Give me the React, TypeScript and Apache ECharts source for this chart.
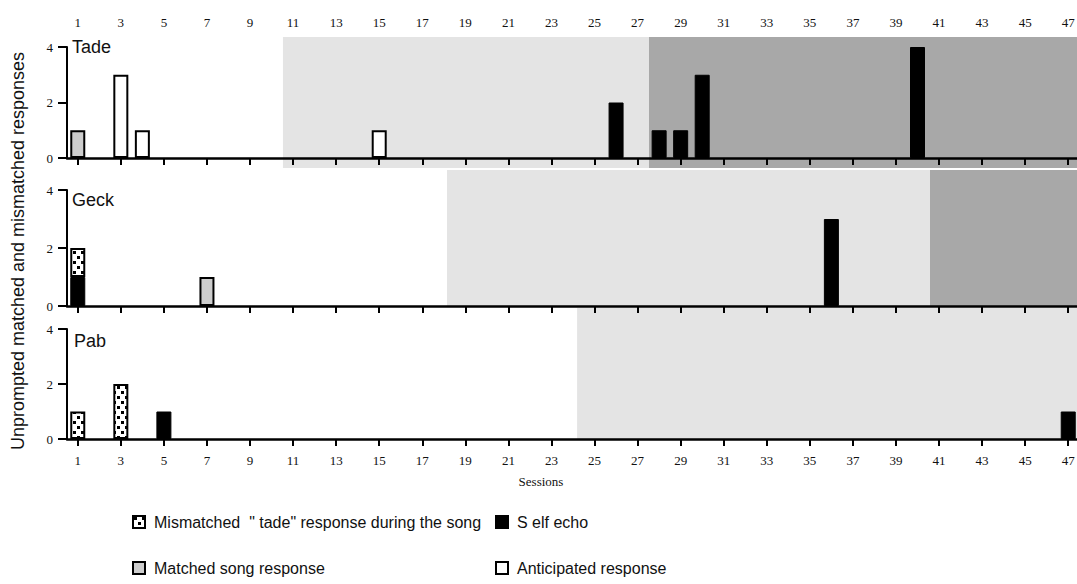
import React, { useEffect, useRef } from "react";
import * as echarts from "echarts";

// Session categories (x axis) and tick labels
const sessions = [1, 2, 3, 4, 5, 6, 7, 8, 9, 10, 11, 12, 13, 14, 15, 16, 17, 18, 19, 20, 21, 22, 23, 24, 25, 26, 27, 28, 29, 30, 31, 32, 33, 34, 35, 36, 37, 38, 39, 40, 41, 42, 43, 44, 45, 46, 47];
const yTicks = [0, 2, 4];
const subjects = ["Tade", "Geck", "Pab"];

const MISMATCHED = 'Mismatched  " tade" response during the song';
const SELF_ECHO = "S elf echo";
const MATCHED = "Matched song response";
const ANTICIPATED = "Anticipated response";

// [session, count]
const tadeSelfEcho = [[26, 2], [28, 1], [29, 1], [30, 3], [40, 4]];
const tadeMismatched: number[][] = [];
const tadeMatched = [[1, 1]];
const tadeAnticipated = [[3, 3], [4, 1], [15, 1]];

const geckSelfEcho = [[1, 1], [36, 3]];
const geckMismatched = [[1, 1]];
const geckMatched = [[7, 1]];
const geckAnticipated: number[][] = [];

const pabSelfEcho = [[5, 1], [47, 1]];
const pabMismatched = [[1, 1], [3, 2]];
const pabMatched: number[][] = [];
const pabAnticipated: number[][] = [];

// shaded phases [start, end] in session units
const tadeLightPhase = [10.53, 27.53];
const tadeDarkPhase = [27.53, 47.5];
const geckLightPhase = [18.15, 40.58];
const geckDarkPhase = [40.58, 47.5];
const pabLightPhase = [24.19, 47.5];

const SANS = '"Liberation Sans", Arial, sans-serif';
const SERIF = '"Liberation Serif", "Times New Roman", serif';
const LIGHT = "#e4e4e4";
const DARK = "#a8a8a8";

function makeDots() {
  const c = document.createElement("canvas");
  c.width = 8;
  c.height = 10;
  const ctx = c.getContext("2d")!;
  ctx.fillStyle = "#fff";
  ctx.fillRect(0, 0, 8, 10);
  ctx.fillStyle = "#000";
  ctx.fillRect(1, 1, 3, 3);
  ctx.fillRect(5, 6, 3, 3);
  return c;
}

const toSeriesData = (pairs: number[][]) =>
  sessions.map((s) => {
    const f = pairs.find((p) => p[0] === s);
    return f ? f[1] : "-";
  });

export default function App() {
  const ref = useRef<HTMLDivElement>(null);
  useEffect(() => {
    if (!ref.current) return;
    const chart = echarts.init(ref.current, null, { renderer: "svg" });
    const dots = makeDots();

    const styles: Record<string, any> = {
      [SELF_ECHO]: { color: "#000", borderColor: "#000", borderWidth: 1 },
      [MISMATCHED]: { color: { image: dots, repeat: "repeat" }, borderColor: "#000", borderWidth: 2 },
      [MATCHED]: { color: "#cdcdcd", borderColor: "#000", borderWidth: 2 },
      [ANTICIPATED]: { color: "#fff", borderColor: "#000", borderWidth: 2 },
    };

    const data = [
      [[SELF_ECHO, tadeSelfEcho], [MISMATCHED, tadeMismatched], [MATCHED, tadeMatched], [ANTICIPATED, tadeAnticipated]],
      [[SELF_ECHO, geckSelfEcho], [MISMATCHED, geckMismatched], [MATCHED, geckMatched], [ANTICIPATED, geckAnticipated]],
      [[SELF_ECHO, pabSelfEcho], [MISMATCHED, pabMismatched], [MATCHED, pabMatched], [ANTICIPATED, pabAnticipated]],
    ] as [string, number[][]][][];

    const barGrids = [
      { left: 67, top: 47, width: 1012, height: 111 },
      { left: 67, top: 190, width: 1012, height: 116 },
      { left: 67, top: 329, width: 1012, height: 110 },
    ];
    const shadeGrids = [
      { left: 67, top: 37, width: 1012, height: 131 },
      { left: 67, top: 170, width: 1012, height: 136 },
      { left: 67, top: 308, width: 1012, height: 131 },
    ];
    const phases = [
      [[tadeLightPhase, LIGHT], [tadeDarkPhase, DARK]],
      [[geckLightPhase, LIGHT], [geckDarkPhase, DARK]],
      [[pabLightPhase, LIGHT]],
    ] as [number[], string][][];

    const catAxis = (gridIndex: number, labels: boolean) => ({
      type: "category",
      gridIndex,
      data: sessions.map(String),
      position: "bottom",
      boundaryGap: true,
      z: 5,
      axisLine: { show: true, lineStyle: { color: "#000", width: 2.5 } },
      axisTick: { show: true, interval: 1, alignWithLabel: true, length: 7, lineStyle: { color: "#000", width: 2 } },
      axisLabel: {
        show: labels,
        interval: 1,
        margin: 15,
        fontFamily: SERIF,
        fontSize: 13,
        color: "#111",
      },
      splitLine: { show: false },
    });

    const xAxes: any[] = [
      catAxis(0, false),
      {
        type: "category",
        gridIndex: 0,
        data: sessions.map(String),
        position: "top",
        boundaryGap: true,
        axisLine: { show: false },
        axisTick: { show: false },
        axisLabel: { show: true, interval: 1, margin: 18, fontFamily: SERIF, fontSize: 13, color: "#111" },
        splitLine: { show: false },
      },
      catAxis(1, false),
      catAxis(2, true),
      ...shadeGrids.map((_, i) => ({ type: "value", gridIndex: 3 + i, min: 0.5, max: 47.5, show: false })),
    ];
    const barXAxisIndex = [0, 2, 3];

    const yAxes: any[] = [
      ...barGrids.map((_, i) => ({
        type: "value",
        gridIndex: i,
        min: yTicks[0],
        max: yTicks[yTicks.length - 1],
        interval: 2,
        z: 5,
        axisLine: { show: true, lineStyle: { color: "#000", width: 2 } },
        axisTick: { show: true, length: 9, lineStyle: { color: "#000", width: 2 } },
        axisLabel: { margin: 14, fontFamily: SERIF, fontSize: 13, color: "#111" },
        splitLine: { show: false },
      })),
      ...shadeGrids.map((_, i) => ({ type: "value", gridIndex: 3 + i, min: 0, max: 1, show: false })),
    ];

    const series: any[] = [];
    shadeGrids.forEach((_, i) => {
      series.push({
        type: "line",
        name: "phase" + i,
        xAxisIndex: 4 + i,
        yAxisIndex: 3 + i,
        data: [],
        z: 1,
        silent: true,
        markArea: {
          silent: true,
          label: { show: false },
          data: phases[i].map(([rng, col]) => [
            { xAxis: rng[0], itemStyle: { color: col } },
            { xAxis: rng[1] },
          ]),
        },
      });
    });
    data.forEach((group, i) => {
      group.forEach(([name, pairs]) => {
        series.push({
          type: "bar",
          name,
          xAxisIndex: barXAxisIndex[i],
          yAxisIndex: i,
          stack: "s" + i,
          barWidth: 15,
          z: 3,
          itemStyle: styles[name],
          data: toSeriesData(pairs),
        });
      });
    });

    const legendBase = {
      orient: "vertical",
      top: 509,
      itemGap: 30,
      itemWidth: 12,
      itemHeight: 12,
      icon: "rect",
      selectedMode: false,
      textStyle: { fontFamily: SANS, fontSize: 16, color: "#111", padding: [0, 0, 0, 4] },
    };

    chart.setOption({
      animation: false,
      backgroundColor: "#fff",
      grid: [...barGrids, ...shadeGrids],
      xAxis: xAxes,
      yAxis: yAxes,
      series,
      legend: [
        { ...legendBase, left: 127, data: [MISMATCHED, MATCHED] },
        { ...legendBase, left: 490, data: [SELF_ECHO, ANTICIPATED] },
      ],
      graphic: [
        {
          type: "text",
          x: 18,
          y: 251,
          rotation: Math.PI / 2,
          style: {
            text: "Unprompted matched and mismatched responses",
            font: `18px ${SANS}`,
            fill: "#111",
            textAlign: "center",
            textVerticalAlign: "middle",
          },
        },
        ...subjects.map((s, i) => ({
          type: "text",
          x: [72, 72, 74][i],
          y: [47, 200, 341][i],
          z: 10,
          style: { text: s, font: `18px ${SANS}`, fill: "#111", textAlign: "left", textVerticalAlign: "middle" },
        })),
        {
          type: "text",
          x: 541,
          y: 481,
          style: { text: "Sessions", font: `13px ${SERIF}`, fill: "#111", textAlign: "center", textVerticalAlign: "middle" },
        },
      ],
    });
    return () => chart.dispose();
  }, []);
  return (
    <div style={{ position: "fixed", left: 0, top: 0, width: 1077, height: 584, overflow: "hidden", background: "#fff" }}>
      <div ref={ref} style={{ width: 1081, height: 584 }} />
    </div>
  );
}
